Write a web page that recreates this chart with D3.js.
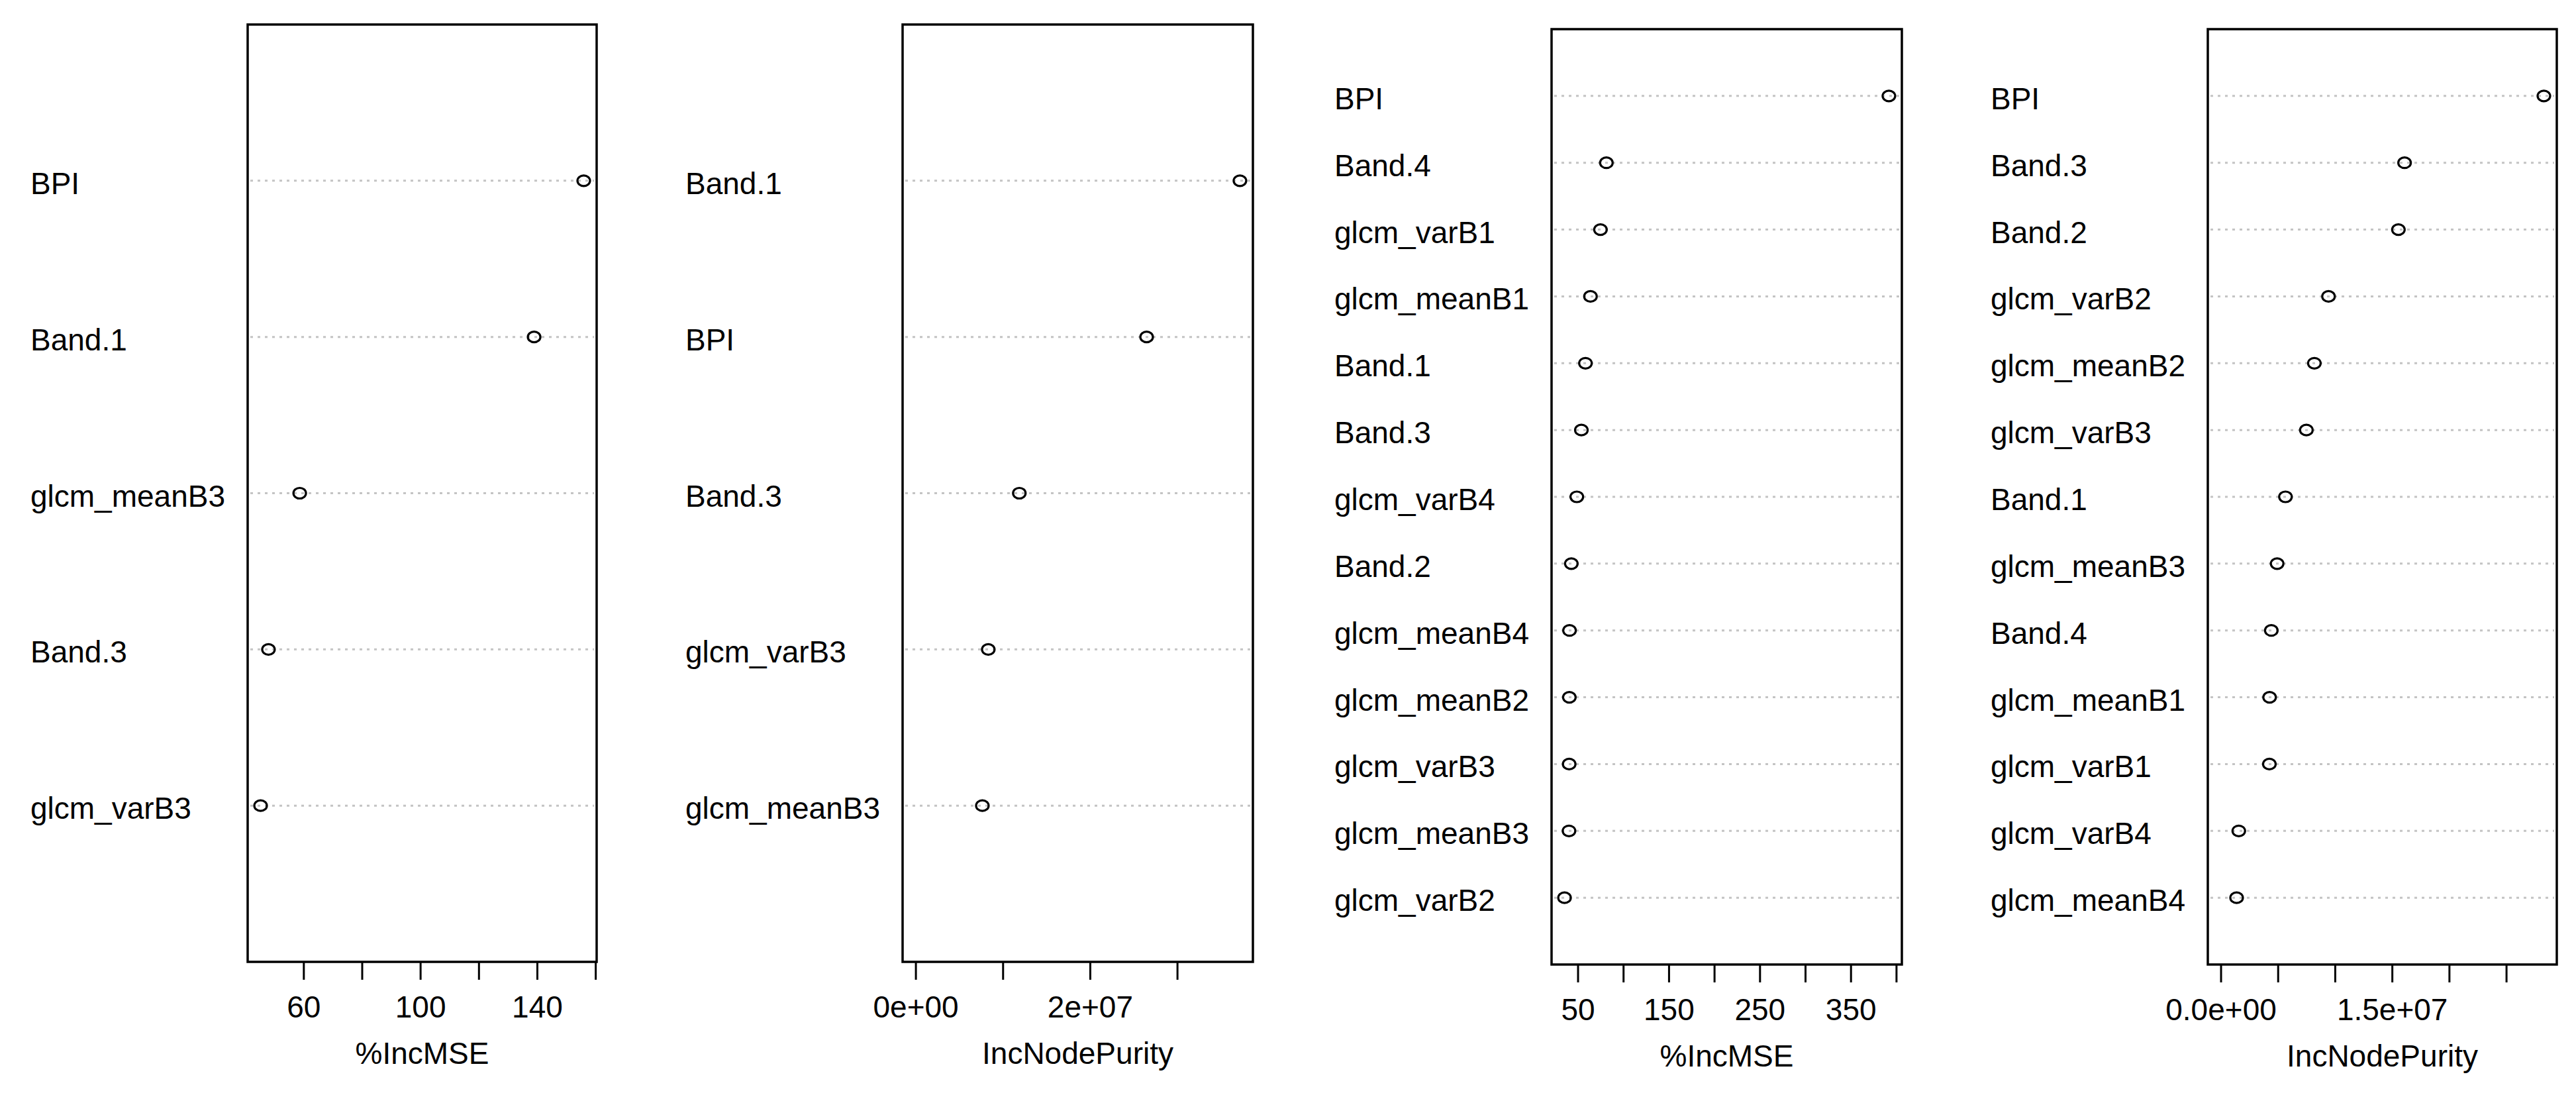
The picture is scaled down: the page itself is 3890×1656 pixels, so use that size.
<!DOCTYPE html>
<html>
<head>
<meta charset="utf-8">
<script src="https://cdn.jsdelivr.net/npm/d3@7"></script>
<style>
  body { margin: 0; background: #ffffff; }
  svg text { font-family: "Liberation Sans", Arial, Helvetica, sans-serif; fill: #000; }
</style>
</head>
<body>
<svg id="chart" width="3890" height="1656"></svg>
<script>
// panel 1 - %IncMSE, 5 variables (top to bottom)
var mseNamesA = ["BPI", "Band.1", "glcm_meanB3", "Band.3", "glcm_varB3"];
var mseValuesA = [156.0, 139.0, 58.7, 48.0, 45.3];
var mseTicksA = [60, 80, 100, 120, 140, 160];
var mseTickLabelsA = ["60", "", "100", "", "140", ""];

// panel 2 - IncNodePurity, 5 variables
var purityNamesA = ["Band.1", "BPI", "Band.3", "glcm_varB3", "glcm_meanB3"];
var purityValuesA = [3.72e7, 2.65e7, 1.19e7, 0.834e7, 0.766e7];
var purityTicksA = [0, 1e7, 2e7, 3e7];
var purityTickLabelsA = ["0e+00", "", "2e+07", ""];

// panel 3 - %IncMSE, 13 variables
var mseNamesB = ["BPI", "Band.4", "glcm_varB1", "glcm_meanB1", "Band.1", "Band.3", "glcm_varB4",
  "Band.2", "glcm_meanB4", "glcm_meanB2", "glcm_varB3", "glcm_meanB3", "glcm_varB2"];
var mseValuesB = [392.0, 81.5, 75.0, 64.0, 58.5, 54.0, 49.0, 43.0, 41.0, 40.8, 40.6, 40.4, 35.5];
var mseTicksB = [50, 100, 150, 200, 250, 300, 350, 400];
var mseTickLabelsB = ["50", "", "150", "", "250", "", "350", ""];

// panel 4 - IncNodePurity, 13 variables
var purityNamesB = ["BPI", "Band.3", "Band.2", "glcm_varB2", "glcm_meanB2", "glcm_varB3", "Band.1",
  "glcm_meanB3", "Band.4", "glcm_meanB1", "glcm_varB1", "glcm_varB4", "glcm_meanB4"];
var purityValuesB = [2.83e7, 1.61e7, 1.556e7, 0.944e7, 0.820e7, 0.750e7, 0.567e7,
  0.494e7, 0.443e7, 0.428e7, 0.426e7, 0.158e7, 0.139e7];
var purityTicksB = [0, 5e6, 1e7, 1.5e7, 2e7, 2.5e7];
var purityTickLabelsB = ["0.0e+00", "", "", "1.5e+07", "", ""];

var FONT = 46;

var panels = [
  { names: mseNamesA, values: mseValuesA, ticks: mseTicksA, tickLabels: mseTickLabelsA,
    title: "%IncMSE", fromZero: false, left: 374, right: 901, top: 37, bottom: 1452 },
  { names: purityNamesA, values: purityValuesA, ticks: purityTicksA, tickLabels: purityTickLabelsA,
    title: "IncNodePurity", fromZero: true, left: 1363, right: 1892, top: 37, bottom: 1452 },
  { names: mseNamesB, values: mseValuesB, ticks: mseTicksB, tickLabels: mseTickLabelsB,
    title: "%IncMSE", fromZero: false, left: 2343, right: 2872, top: 44, bottom: 1456 },
  { names: purityNamesB, values: purityValuesB, ticks: purityTicksB, tickLabels: purityTickLabelsB,
    title: "IncNodePurity", fromZero: true, left: 3334, right: 3861, top: 44, bottom: 1456 }
];

var svg = d3.select("#chart");
svg.append("rect").attr("width", 3890).attr("height", 1656).attr("fill", "#ffffff");

function drawPanel (p) {
  var n = p.names.length;
  var lo = p.fromZero ? 0 : d3.min(p.values);
  var hi = d3.max(p.values);
  var pad = (hi - lo) * 0.04; // like R's xaxs="r"

  var x = d3.scaleLinear().domain([lo - pad, hi + pad]).range([p.left, p.right]);
  var y = d3.scaleLinear().domain([0, n + 1]).range([p.bottom, p.top]);

  var g = svg.append("g");

  // dotted guide lines
  g.selectAll("line.guide")
    .data(p.names)
    .enter().append("line")
    .attr("class", "guide")
    .attr("x1", p.left + 4)
    .attr("x2", p.right - 4)
    .attr("y1", function (d, i) { return y(n - i); })
    .attr("y2", function (d, i) { return y(n - i); })
    .attr("stroke", "#c4c4c4")
    .attr("stroke-width", 3)
    .attr("stroke-dasharray", "4 7");

  // row labels
  g.selectAll("text.lab")
    .data(p.names)
    .enter().append("text")
    .attr("class", "lab")
    .attr("x", p.left - 328)
    .attr("y", function (d, i) { return y(n - i) + 20; })
    .style("font-size", FONT + "px")
    .text(function (d) { return d; });

  // open circles (slightly wide, as in the stretched original)
  g.selectAll("ellipse")
    .data(p.values)
    .enter().append("ellipse")
    .attr("cx", function (d) { return x(d); })
    .attr("cy", function (d, i) { return y(n - i); })
    .attr("rx", 9.5)
    .attr("ry", 8)
    .attr("fill", "none")
    .attr("stroke", "#000")
    .attr("stroke-width", 3.2);

  // frame
  g.append("rect")
    .attr("x", p.left)
    .attr("y", p.top)
    .attr("width", p.right - p.left)
    .attr("height", p.bottom - p.top)
    .attr("fill", "none")
    .attr("stroke", "#000")
    .attr("stroke-width", 3.5);

  var axis = d3.axisBottom(x)
    .tickValues(p.ticks)
    .tickFormat(function (d, i) { return p.tickLabels[i]; })
    .tickSize(27)
    .tickPadding(24);

  var ax = g.append("g")
    .attr("transform", "translate(0," + p.bottom + ")")
    .call(axis);
  ax.select(".domain").remove();
  ax.selectAll(".tick line").attr("stroke", "#000").attr("stroke-width", 3);
  ax.selectAll(".tick text")
    .attr("font-family", null)
    .style("font-size", FONT + "px")
    .attr("fill", "#000");

  g.append("text")
    .attr("x", (p.left + p.right) / 2)
    .attr("y", p.bottom + 154)
    .attr("text-anchor", "middle")
    .style("font-size", FONT + "px")
    .text(p.title);
}

panels.forEach(drawPanel);
</script>
</body>
</html>
